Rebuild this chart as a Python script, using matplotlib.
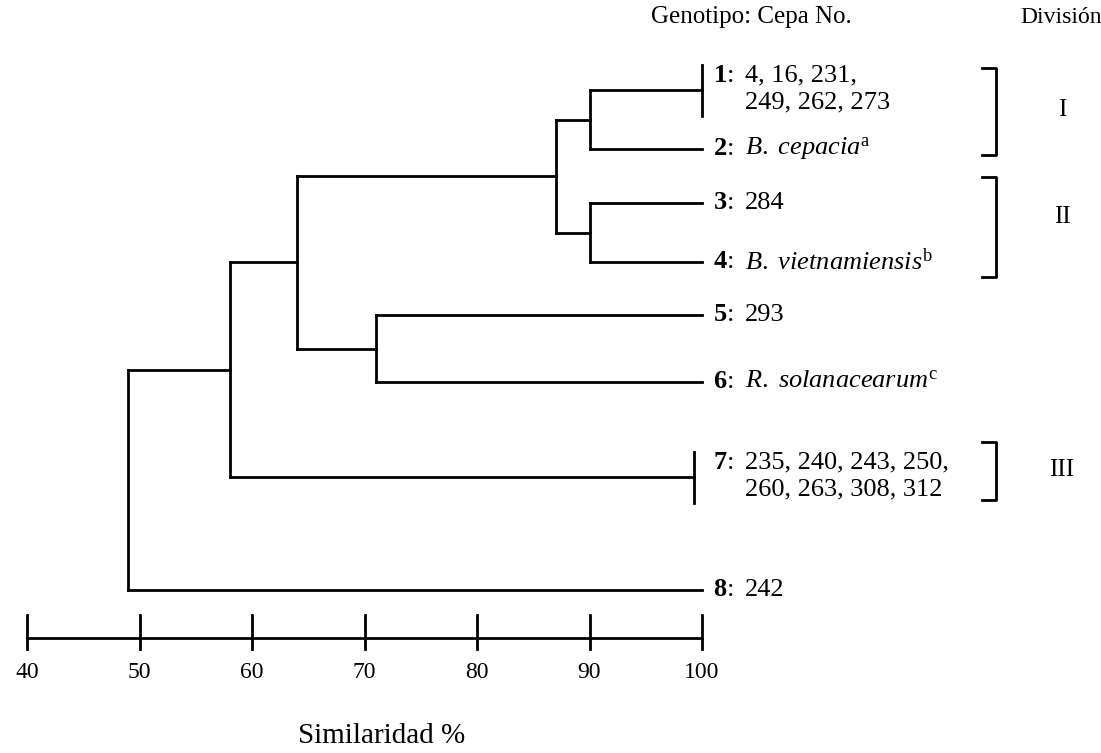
# Dendrograma de genotipos (similaridad %)
import matplotlib
matplotlib.use('Agg')
import matplotlib.pyplot as plt

plt.rcParams['font.family'] = ['Liberation Serif', 'DejaVu Serif']
plt.rcParams['mathtext.fontset'] = 'custom'
plt.rcParams['mathtext.rm'] = 'Liberation Serif'
plt.rcParams['mathtext.it'] = 'Liberation Serif:italic'
plt.rcParams['mathtext.bf'] = 'Liberation Serif:bold'

# datos
leaf_ids = ['1', '2', '3', '4', '5', '6', '7', '8']
leaf_text = ['4, 16, 231,\n249, 262, 273',
             r'$\mathit{B.\ cepacia}^{\mathrm{a}}$',
             '284',
             r'$\mathit{B.\ vietnamiensis}^{\mathrm{b}}$',
             '293',
             r'$\mathit{R.\ solanacearum}^{\mathrm{c}}$',
             '235, 240, 243, 250,\n260, 263, 308, 312',
             '242']
leaf_end = [100, 100, 100, 100, 100, 100, 99.3, 100]
grouped_leaf = [True, False, False, False, False, False, True, False]

# uniones: hojas 0-7, nodos nuevos 8, 9, ...
merge_left = [0, 2, 8, 4, 10, 12, 13]
merge_right = [1, 3, 9, 5, 11, 6, 7]
merge_sim = [90, 90, 87, 71, 64, 58, 49]

divisions = ['I', 'II', 'III']
ticks = [40, 50, 60, 70, 80, 90, 100]

# disposicion (pixeles de la figura)
W, H = 1101, 753
def px(x):
    return 40 + (x - 27) / 11.25

row_y = [90, 149, 203, 262, 315, 382, 477, 590]
bracket_spans = [(68, 155), (177, 277), (442, 500)]
numeral_y = [110, 217, 470]

fig = plt.figure(figsize=(W / 100, H / 100), dpi=100)
ax = fig.add_axes([0, 0, 1, 1])
ax.set_xlim(px(0), px(W))
ax.set_ylim(H, 0)
ax.axis('off')

lw = 2.0
node_x = list(leaf_end)
node_y = list(row_y)
for a, b, s in zip(merge_left, merge_right, merge_sim):
    ax.plot([s, s], [node_y[a], node_y[b]], color='black', lw=lw, solid_capstyle='projecting')
    ax.plot([s, node_x[a]], [node_y[a], node_y[a]], color='black', lw=lw)
    ax.plot([s, node_x[b]], [node_y[b], node_y[b]], color='black', lw=lw)
    node_x.append(s)
    node_y.append((node_y[a] + node_y[b]) / 2)

fs = 19
for i in range(len(leaf_ids)):
    y = row_y[i]
    if grouped_leaf[i]:
        ax.plot([leaf_end[i], leaf_end[i]], [y - 25, y + 26], color='black', lw=lw)
        ty = y - 14
        ax.text(px(713), ty, r'$\mathbf{%s}$:' % leaf_ids[i], fontsize=fs,
                ha='left', va='center')
        ax.text(px(745), ty, leaf_text[i], fontsize=fs, ha='left', va='top',
                linespacing=1.3)
        ax.texts[-1].set_y(ty - 12)
    else:
        ax.text(px(713), y, r'$\mathbf{%s}$:' % leaf_ids[i], fontsize=fs,
                ha='left', va='center')
        ax.text(px(745), y, leaf_text[i], fontsize=fs, ha='left', va='center')

# corchetes de division
bx = px(996)
for (y0, y1), name, ny in zip(bracket_spans, divisions, numeral_y):
    ax.plot([px(982), bx, bx, px(982)], [y0, y0, y1, y1], color='black', lw=lw)
    ax.text(px(1062), ny, name, fontsize=18, ha='center', va='center')

ax.text(px(751), 17, 'Genotipo: Cepa No.', fontsize=18, ha='center', va='center')
ax.text(px(1020), 17, 'División', fontsize=17, ha='left', va='center')

# escala
ax.plot([ticks[0], ticks[-1]], [638, 638], color='black', lw=lw)
for t in ticks:
    ax.plot([t, t], [615, 649], color='black', lw=lw)
    ax.text(t, 673, str(t), fontsize=17, ha='center', va='center')

ax.text(px(382), 743, 'Similaridad %', fontsize=21, ha='center', va='baseline')

fig.savefig('out.png', dpi=100)
